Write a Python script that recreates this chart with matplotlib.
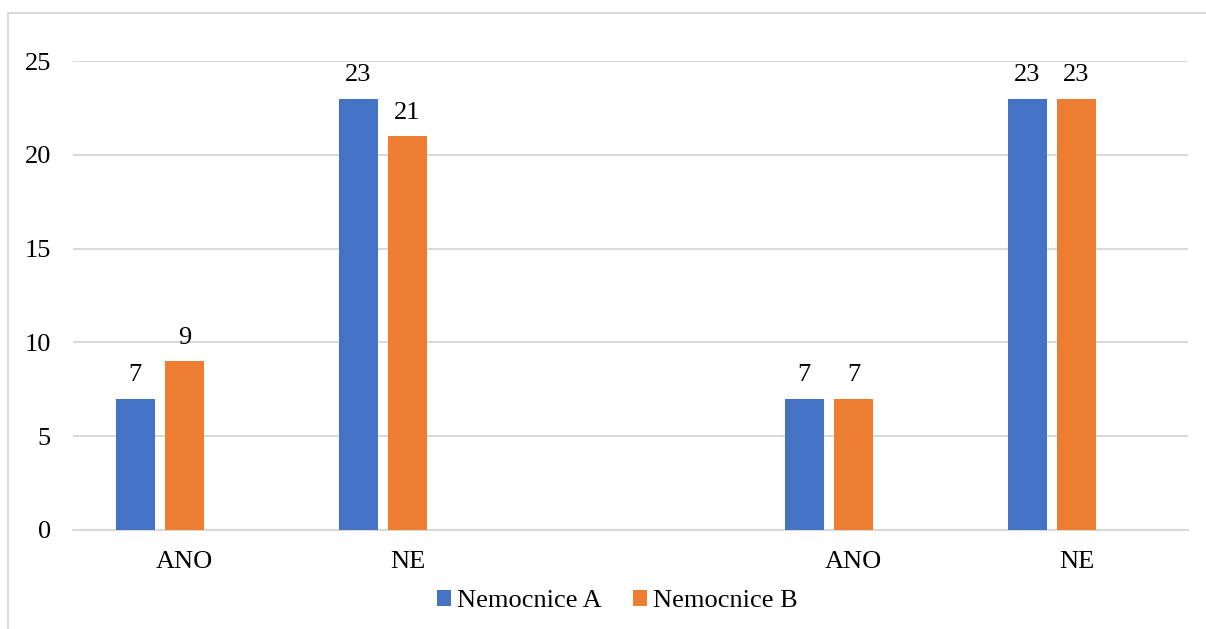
import matplotlib.pyplot as plt
from matplotlib.patches import Rectangle
import numpy as np

categories = ["ANO", "NE", "", "ANO", "NE"]
series_names = ["Nemocnice A", "Nemocnice B"]
nemocnice_a = [7, 23, None, 7, 23]
nemocnice_b = [9, 21, None, 7, 23]
colors = ["#4472C4", "#ED7D31"]
yticks = [0, 5, 10, 15, 20, 25]

plt.rcParams["font.family"] = ["Liberation Serif", "DejaVu Serif"]
fs = 19

fig = plt.figure(figsize=(12.06, 6.29), dpi=100)
ax = fig.add_axes([73 / 1206, 1 - 530 / 629, (1188 - 73) / 1206, (530 - 61) / 629])

# outer chart border
fig.patches.append(Rectangle((8 / 1206, -0.1), 1.2, 1 - 13 / 629 + 0.1,
                             transform=fig.transFigure, fill=False,
                             edgecolor="#d9d9d9", linewidth=1.5, zorder=0))

x = np.arange(len(categories))
width = 0.175
offsets = [-0.2215, 0.0]

for vals, name, col, off in zip([nemocnice_a, nemocnice_b], series_names, colors, offsets):
    xs = [xi + off for xi, v in zip(x, vals) if v is not None]
    vs = [v for v in vals if v is not None]
    bars = ax.bar(xs, vs, width=width, color=col, label=name, zorder=3)
    for b, v in zip(bars, vs):
        ax.annotate(str(v), (b.get_x() + b.get_width() / 2, v),
                    xytext=(0, 9), textcoords="offset points",
                    ha="center", va="bottom", fontsize=fs, color="#000000")

ax.set_xlim(-0.5, len(categories) - 0.5)
ax.set_ylim(0, 25)
ax.set_yticks(yticks)
ax.set_yticklabels([str(t) for t in yticks], fontsize=fs)
ax.set_xticks(x)
ax.set_xticklabels(categories, fontsize=fs)
ax.tick_params(axis="both", length=0)
ax.tick_params(axis="y", pad=16)
ax.tick_params(axis="x", pad=15)
ax.yaxis.grid(True, color="#d9d9d9", linewidth=1.5, zorder=0)
ax.set_axisbelow(True)
for s in ["top", "right", "left"]:
    ax.spines[s].set_visible(False)
ax.spines["bottom"].set_color("#d9d9d9")
ax.spines["bottom"].set_linewidth(1.5)

leg = fig.legend(loc="center", bbox_to_anchor=(617 / 1206, 1 - 601 / 629), ncol=2,
                 frameon=False, fontsize=fs, handlelength=0.55, handleheight=0.55,
                 handletextpad=0.2, columnspacing=1.2)

fig.savefig("out.png", dpi=100)
